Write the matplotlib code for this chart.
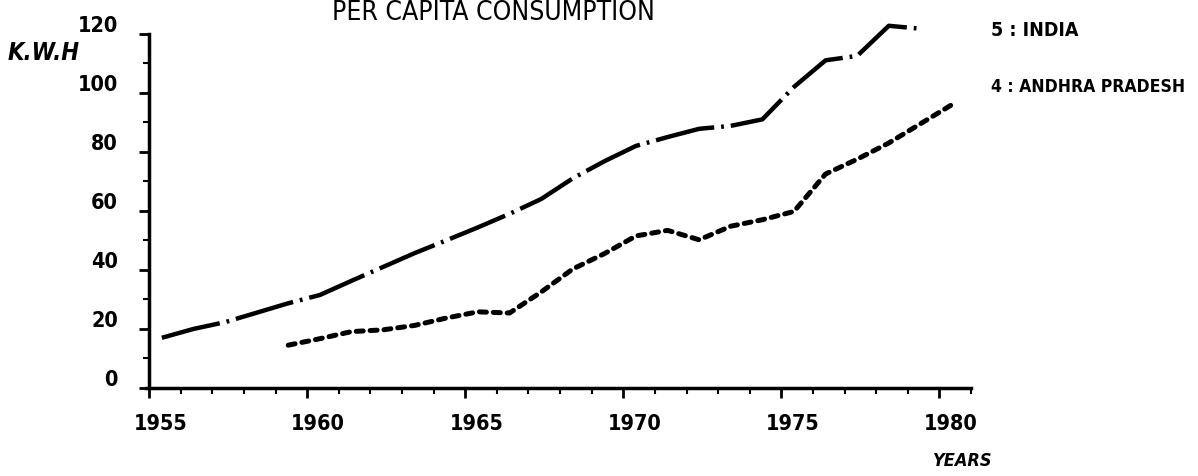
import numpy as np
import matplotlib.pyplot as plt
import matplotlib.transforms as mtransforms
from matplotlib.ticker import MultipleLocator

# Per capita electricity consumption (kWh)
india_years = list(range(1955, 1980))
india_kwh = [17, 20, 22.3, 25.5, 28.7, 31.5, 36.3, 41, 45.7, 50, 54.4, 59, 64,
             71, 76.8, 82, 85, 87.8, 88.8, 91, 102, 111, 112.5, 122.7, 121.7]

ap_years = list(range(1959, 1981))
ap_kwh = [14.5, 16.7, 19.1, 19.7, 21.2, 23.7, 25.8, 25.4, 32.5, 40.3, 45.5,
          51.5, 53.4, 50.2, 54.8, 57, 59.8, 72.5, 77.5, 83, 89.5, 96]

x_ticks = [1955, 1960, 1965, 1970, 1975, 1980]
y_ticks = [0, 20, 40, 60, 80, 100, 120]

X_SHIFT = 0.4  # the old plotter drew points a bit right of the tick marks

plt.rcParams['lines.scale_dashes'] = False
plt.rcParams['font.family'] = ['DejaVu Sans']
plt.rcParams['font.stretch'] = 'condensed'
narrow = dict(family=['DejaVu Sans'], stretch='condensed')

fig = plt.figure(figsize=(11.98, 4.76), dpi=100)
ax = fig.add_axes([0.1219, 0.1849, 0.6886, 0.769])

ax.plot(np.array(india_years) + X_SHIFT, india_kwh, color='black', lw=3.2,
        dashes=(43, 5, 2, 5), solid_capstyle='round')
ax.plot(np.array(ap_years) + X_SHIFT, ap_kwh, color='black', lw=3.6,
        dashes=(5, 5), dash_capstyle='round')

ax.set_xlim(1954.9, 1981.0)
ax.set_ylim(0, 124)
ax.spines['top'].set_visible(False)
ax.spines['right'].set_visible(False)
ax.spines['left'].set_position(('data', 1955))
ax.spines['left'].set_bounds(0, 120)
for s in ['left', 'bottom']:
    ax.spines[s].set_linewidth(2.5)

ax.set_xticks(x_ticks)
ax.set_xticklabels([str(v) for v in x_ticks])
ax.set_yticks(y_ticks)
ax.set_yticklabels([str(v) for v in y_ticks])
ax.xaxis.set_minor_locator(MultipleLocator(1))
ax.yaxis.set_minor_locator(MultipleLocator(10))
ax.tick_params(axis='both', which='major', length=7, width=2, direction='out',
               labelsize=15.5, pad=12)
ax.tick_params(axis='both', which='minor', length=4, width=1.5, direction='out')

for lab in ax.get_xticklabels():
    lab.set_fontweight('bold')
    lab.set_fontstretch('condensed')
    lab.set_transform(lab.get_transform() +
                      mtransforms.ScaledTranslation(0.11, 0, fig.dpi_scale_trans))
for lab in ax.get_yticklabels():
    lab.set_fontweight('bold')
    lab.set_fontstretch('condensed')
    lab.set_transform(lab.get_transform() +
                      mtransforms.ScaledTranslation(-0.05, 0.1, fig.dpi_scale_trans))

# title sits at the very top edge of the scan
fig.text(0.412, 0.999, 'PER CAPITA CONSUMPTION', ha='center', va='top',
         fontsize=19, **narrow)

fig.text(0.006, 1 - 60 / 476, 'K.W.H', ha='left', va='baseline', fontsize=17,
         fontweight='bold', style='italic', **narrow)
fig.text(0.779, 0.012, 'YEARS', ha='left', va='bottom', fontsize=13,
         fontweight='bold', style='italic', **narrow)

fig.text(0.827, 1 - 36 / 476, '5 : INDIA', ha='left', va='baseline', fontsize=14,
         fontweight='bold', **narrow)
fig.text(0.827, 1 - 92 / 476, '4 : ANDHRA PRADESH', ha='left', va='baseline',
         fontsize=12.6, fontweight='bold', **narrow)

fig.savefig('out.png', dpi=100)
